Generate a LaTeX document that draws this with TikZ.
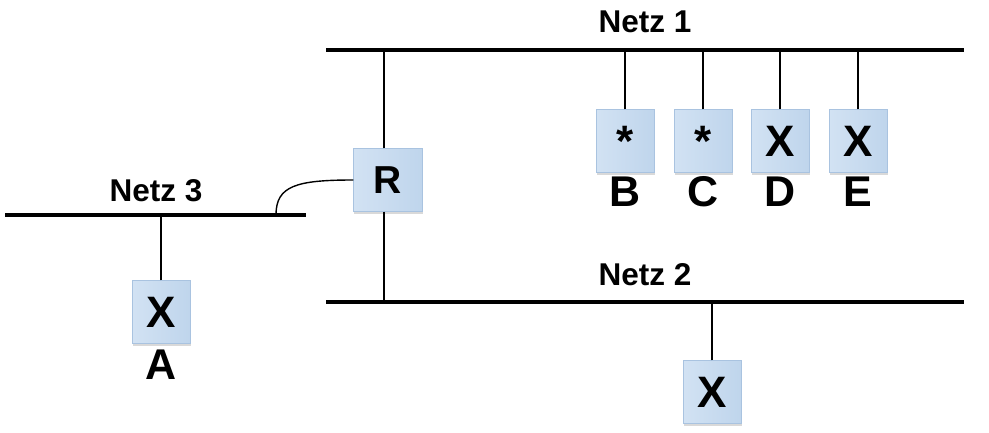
\documentclass[tikz,border=0pt]{standalone}
\usepackage{fontspec}
\setmainfont{Liberation Sans}
\usepackage{tikz}
\usetikzlibrary{positioning,shadows}
\definecolor{HostBlue}{HTML}{BFD5EC}
\definecolor{HostBlueL}{HTML}{D2E2F3}
\definecolor{HostEdge}{HTML}{A9C3E0}

\begin{document}
\begin{tikzpicture}[x=1pt,y=-1pt,font=\bfseries,
  host/.style={draw=HostEdge,left color=HostBlueL,right color=HostBlue,
    minimum width=58pt,minimum height=63pt,inner sep=0pt,
    drop shadow={opacity=0.3,shadow xshift=0.5pt,shadow yshift=-2.5pt},
    font=\fontsize{44}{44}\selectfont\bfseries},
  hostlabel/.style={inner sep=0pt,font=\fontsize{43}{43}\selectfont\bfseries},
  netlabel/.style={inner sep=0pt,anchor=base,font=\fontsize{31.5}{31.5}\selectfont\bfseries},
  net/.style={line width=4.5pt},
  tap/.style={line width=1.4pt}]
  \useasboundingbox (0,0) rectangle (989,433);
  % Netze
  \coordinate (n1w) at (326,50);  \coordinate (n1e) at (964,50);
  \coordinate (n2w) at (326,302); \coordinate (n2e) at (964,302);
  \coordinate (n3w) at (5,215);   \coordinate (n3e) at (306,215);
  \coordinate (n3r) at (276,215);
  \node[netlabel] (netz1) at (645,33) {Netz 1};
  \node[netlabel] (netz2) at (645,285) {Netz 2};
  \node[netlabel] (netz3) at (156,202) {Netz 3};
  % Router
  \node[host,minimum width=69pt,font=\fontsize{39}{39}\selectfont\bfseries] (R) at (388,180) {R};
  \draw[tap] ([xshift=-4pt]R.north) -- ([xshift=-4pt]R.north |- n1w);
  \draw[tap] ([xshift=-4pt]R.south) -- ([xshift=-4pt]R.south |- n2w);
  \draw[tap] (n3r) .. controls (276,186) and (296,180) .. (R.west);
  % Rechner an Netz 1
  \foreach \name/\sym/\x in {B/*/625,C/*/703,D/X/780,E/X/858} {
    \node[host] (\name) at (\x,141) {\sym};
    \node[hostlabel,below=4pt of \name] (lbl\name) {\name};
    \draw[tap] (\name.north) -- (\name.north |- n1w);
  }
  % Rechner an Netz 3 und Netz 2
  \node[host] (A) at (161,312) {X};
  \node[hostlabel,below=6pt of A] (lblA) {A};
  \draw[tap] (A.north) -- (A.north |- n3w);
  \node[host] (F) at (712,392) {X};
  \draw[tap] (F.north) -- (F.north |- n2w);
  \draw[net] (n1w) -- (n1e);
  \draw[net] (n2w) -- (n2e);
  \draw[net] (n3w) -- (n3e);
\end{tikzpicture}
\end{document}
